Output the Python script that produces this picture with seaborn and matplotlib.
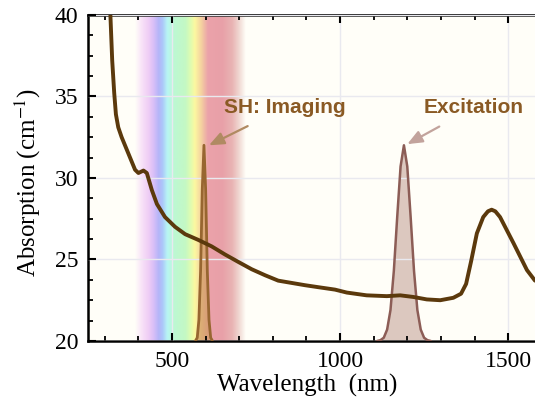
import numpy as np
import pandas as pd
import matplotlib
matplotlib.use("Agg")
import matplotlib.pyplot as plt
import seaborn as sns
from matplotlib.colors import LinearSegmentedColormap
from matplotlib.ticker import AutoMinorLocator

# ---------- data ---------- #

# absorption spectrum (main curve)
wavelength = [316, 322, 328, 333, 340, 350, 370, 390, 400, 415, 425, 440, 455, 479,
              509, 539, 578, 618, 658, 697, 737, 777, 816, 856, 896, 935, 985, 1020,
              1079, 1139, 1179, 1218, 1258, 1298, 1337, 1360, 1375, 1390, 1407, 1426,
              1440, 1451, 1462, 1476, 1516, 1556, 1580]
absorption = [40.3, 37.2, 35.2, 33.9, 33.1, 32.5, 31.5, 30.5, 30.3, 30.45, 30.3,
              29.25, 28.4, 27.6, 27.0, 26.55, 26.2, 25.8, 25.3, 24.85, 24.4, 24.03,
              23.7, 23.56, 23.42, 23.3, 23.15, 22.97, 22.8, 22.75, 22.8, 22.7, 22.55,
              22.5, 22.65, 22.9, 23.5, 24.9, 26.6, 27.6, 27.95, 28.05, 27.95, 27.6,
              26.0, 24.35, 23.7]

# second harmonic (imaging) peak
sh_nm = [570, 575, 580, 585, 590, 595, 600, 605, 610, 615, 620]
sh_abs = [20.02, 20.2, 21.3, 24.3, 29.3, 32.0, 29.3, 24.3, 21.3, 20.2, 20.02]

# excitation peak
exc_nm = [1110, 1120, 1130, 1140, 1150, 1160, 1170, 1180, 1190, 1200, 1210, 1220,
          1230, 1240, 1250, 1260, 1270]
exc_abs = [20.0, 20.05, 20.2, 20.7, 21.9, 24.3, 27.6, 30.7, 32.0, 30.7, 27.6, 24.3,
           21.9, 20.7, 20.2, 20.05, 20.0]

# visible band backdrop
rainbow_nm = [390, 410, 430, 445, 460, 472, 486, 505, 540, 556, 568, 588, 607,
              650, 680, 700, 720]
rainbow_colors = ['#fffef8', '#f8e2f8', '#efcdf5', '#d9bff8', '#b5b5f8', '#acc8fa',
                  '#b8f6f4', '#bcf8d4', '#c4f8c4', '#e0fcb0', '#fcf8a0', '#f4d0a0',
                  '#eba2aa', '#e8a0a8', '#e9b4b4', '#f0d8d2', '#fffef8']

xlim = (250, 1580)
ylim = (20, 40)

# ---------- plot ---------- #

sns.set_theme(style="ticks")
plt.rcParams['font.family'] = ['Liberation Serif', 'DejaVu Serif']
plt.rcParams['mathtext.fontset'] = 'stix'

fig, ax = plt.subplots(figsize=(5.35, 4), dpi=100)
fig.subplots_adjust(left=0.1645, right=1.0, bottom=0.1475, top=0.963)
ax.set_facecolor('#fffef8')

# rainbow background
pos = [(n - rainbow_nm[0]) / (rainbow_nm[-1] - rainbow_nm[0]) for n in rainbow_nm]
cmap = LinearSegmentedColormap.from_list('vis', list(zip(pos, rainbow_colors)))
grad = np.linspace(0, 1, 512).reshape(1, -1)
ax.imshow(grad, cmap=cmap, aspect='auto', extent=(rainbow_nm[0], rainbow_nm[-1], ylim[0], ylim[1]),
          zorder=0, interpolation='bilinear')

ax.grid(True, color='#e9e9ef', lw=1.0)
ax.set_axisbelow(False)
for gl in ax.get_xgridlines() + ax.get_ygridlines():
    gl.set_zorder(0.5)

# peaks
ax.fill_between(sh_nm, ylim[0], sh_abs, color='#cf9a5e', alpha=0.65, lw=0, zorder=2)
sns.lineplot(x=sh_nm, y=sh_abs, ax=ax, color='#976630', lw=2.0, zorder=3, sort=False)

ax.fill_between(exc_nm, ylim[0], exc_abs, color='#dcc8bf', lw=0, zorder=2)
sns.lineplot(x=exc_nm, y=exc_abs, ax=ax, color='#8c5d56', lw=1.8, zorder=3, sort=False)

# main spectrum
df = pd.DataFrame({'Wavelength': wavelength, 'Absorption': absorption})
sns.lineplot(data=df, x='Wavelength', y='Absorption', ax=ax, color='#5b390c', lw=2.8,
             zorder=4, sort=False)

# annotations
ax.annotate('SH: Imaging', xy=(610, 32.0), xytext=(835, 34.3),
            ha='center', va='center', fontsize=15, fontweight='bold',
            family=['Liberation Sans', 'DejaVu Sans'], color='#8a5a24', zorder=6,
            arrowprops=dict(arrowstyle='-|>,head_length=0.6,head_width=0.25',
                            color='#b08a62', lw=1.6, shrinkA=9, shrinkB=0))
ax.annotate('Excitation', xy=(1200, 32.07), xytext=(1397, 34.3),
            ha='center', va='center', fontsize=15, fontweight='bold',
            family=['Liberation Sans', 'DejaVu Sans'], color='#8a5a24', zorder=6,
            arrowprops=dict(arrowstyle='-|>,head_length=0.6,head_width=0.25',
                            color='#c2a39c', lw=1.6, shrinkA=9, shrinkB=0))

ax.set_xlim(*xlim)
ax.set_ylim(*ylim)
ax.set_xticks([500, 1000, 1500])
ax.set_yticks([20, 25, 30, 35, 40])
ax.xaxis.set_minor_locator(AutoMinorLocator(5))
ax.yaxis.set_minor_locator(AutoMinorLocator(4))
ax.tick_params(which='both', direction='in', top=True, right=False, color='black')
ax.tick_params(which='major', length=6, width=1.5, labelsize=17, pad=7, labelcolor='black')
ax.tick_params(which='minor', length=3.5, width=1.3)

for side in ['left', 'top', 'bottom']:
    ax.spines[side].set_color('black')
    ax.spines[side].set_linewidth(1.8)
ax.spines['right'].set_visible(False)

ax.set_xlabel('Wavelength  (nm)', fontsize=18, color='black')
ax.set_ylabel('Absorption (cm$^{-1}$)', fontsize=18, color='black')
ax.xaxis.set_label_coords(0.49, -0.1)
ax.yaxis.set_label_coords(-0.10, 0.486)

fig.savefig('out.png', dpi=100)
